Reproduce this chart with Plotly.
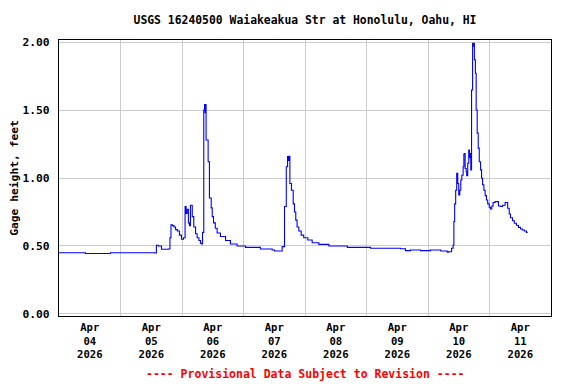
import pandas as pd
import plotly.graph_objects as go

# hours since 2026-04-04 00:00 and gage height (feet)
hours = [0.0, 4.5, 10.3, 16.2, 20.1, 37.3, 38.0, 38.8, 40.0, 42.7, 43.3, 43.7, 44.3, 44.9, 45.5,
         46.2, 47.0, 47.8, 48.6, 49.2, 49.6, 50.0, 50.5, 50.9, 51.3, 51.6, 52.0, 52.6, 53.3,
         53.9, 54.6, 55.2, 55.6, 56.0, 56.5, 56.8, 57.0, 57.3, 57.4, 58.2, 58.7, 59.4, 59.8,
         60.3, 61.0, 61.7, 63.0, 65.0, 66.9, 69.5, 72.8, 78.6, 83.2, 84.1, 85.8, 87.1, 88.0,
         88.7, 89.2, 89.5, 89.7, 90.1, 90.7, 91.4, 91.9, 92.4, 92.9, 93.6, 94.5, 95.5, 97.1,
         98.8, 101.4, 105.3, 112.5, 121.6, 125.5, 133.3, 135.2, 137.2, 141.1, 145.0, 149.0,
         151.5, 152.0, 153.2, 153.8, 154.1, 154.4, 154.8, 155.2, 155.6, 156.0, 156.4, 156.8,
         157.2, 157.7, 158.0, 158.2, 158.5, 158.9, 159.1, 159.5, 159.9, 160.2, 160.5, 160.7,
         161.0, 161.4, 161.6, 161.9, 162.1, 162.5, 162.8, 163.2, 163.6, 164.0, 164.5, 164.9,
         165.3, 165.8, 166.3, 166.8, 167.3, 167.9, 168.4, 168.9, 169.4, 170.2, 171.0, 171.5,
         172.3, 173.1, 174.1, 174.7, 175.1, 175.7, 176.2, 177.0, 177.7, 178.5, 179.3, 180.1,
         180.8, 181.6, 182.4, 182.9]
gage = [0.45, 0.45, 0.445, 0.445, 0.45, 0.448, 0.505, 0.50, 0.476, 0.478, 0.56, 0.655, 0.65,
        0.64, 0.62, 0.61, 0.58, 0.55, 0.56, 0.79, 0.74, 0.77, 0.67, 0.65, 0.80, 0.80, 0.716,
        0.64, 0.59, 0.56, 0.54, 0.52, 0.515, 0.60, 1.50, 1.54, 1.48, 1.54, 1.28, 1.12, 0.853,
        0.78, 0.716, 0.67, 0.63, 0.595, 0.57, 0.54, 0.515, 0.50, 0.49, 0.478, 0.47, 0.463,
        0.463, 0.495, 0.79, 1.083, 1.157, 1.13, 1.16, 0.96, 0.91, 0.81, 0.75, 0.69, 0.64,
        0.61, 0.58, 0.56, 0.544, 0.524, 0.512, 0.50, 0.49, 0.483, 0.483, 0.48, 0.466, 0.47,
        0.466, 0.47, 0.463, 0.455, 0.458, 0.483, 0.507, 0.68, 0.81, 0.91, 1.035, 0.96, 0.875,
        0.91, 0.985, 1.02, 1.083, 1.176, 1.18, 1.07, 1.046, 1.017, 1.108, 1.206, 1.15, 1.18,
        1.06, 1.647, 1.99, 1.97, 1.99, 1.87, 1.77, 1.50, 1.33, 1.22, 1.12, 1.06, 0.998, 0.95,
        0.91, 0.87, 0.838, 0.81, 0.785, 0.772, 0.794, 0.82, 0.826, 0.826, 0.794, 0.79, 0.80,
        0.82, 0.82, 0.777, 0.735, 0.708, 0.686, 0.667, 0.652, 0.637, 0.625, 0.618, 0.61,
        0.60, 0.60]

tick_days = ["2026-04-04", "2026-04-05", "2026-04-06", "2026-04-07",
             "2026-04-08", "2026-04-09", "2026-04-10", "2026-04-11"]
tick_text = ["Apr<br>04<br>2026", "Apr<br>05<br>2026", "Apr<br>06<br>2026", "Apr<br>07<br>2026",
             "Apr<br>08<br>2026", "Apr<br>09<br>2026", "Apr<br>10<br>2026", "Apr<br>11<br>2026"]
y_ticks = [0.0, 0.5, 1.0, 1.5, 2.0]

start = pd.Timestamp("2026-04-04 00:00")
times = [start + pd.Timedelta(hours=h) for h in hours]
tick_vals = [pd.Timestamp(d) + pd.Timedelta(hours=12) for d in tick_days]

FONT = "DejaVu Sans Mono"

fig = go.Figure()
fig.add_trace(go.Scatter(x=times, y=gage, mode="lines", line=dict(color="#0000ff", width=1.1, shape="hv"),
                         showlegend=False, hoverinfo="x+y"))

# the page body adds an 8px offset, so the figure is sized 568x376
fig.update_layout(
    width=568, height=376,
    margin=dict(l=50.5, r=25, t=32, b=68, autoexpand=False),
    paper_bgcolor="white", plot_bgcolor="white",
    font=dict(family=FONT, size=11, color="black", weight="bold"),
    title=dict(text="USGS 16240500 Waiakeakua Str at Honolulu, Oahu, HI", xref="paper", x=0.5,
               xanchor="center", y=1 - 12 / 376, yanchor="middle",
               font=dict(family=FONT, size=11.4, weight="bold")),
    xaxis=dict(range=[start, start + pd.Timedelta(days=8)], tickmode="array", tickvals=tick_vals,
               ticktext=tick_text, showgrid=False, ticks="", showline=True, linecolor="black",
               linewidth=1.2, mirror=True, zeroline=False, ticklabelstandoff=1, automargin=False,
               tickfont=dict(family=FONT, size=10.6, weight="bold"),
               minor=dict(tickmode="array", tickvals=[pd.Timestamp(d) for d in tick_days[1:]],
                          showgrid=True, gridcolor="#cccccc", gridwidth=1, ticks="")),
    yaxis=dict(range=[-0.015, 2.015], tickmode="array", tickvals=y_ticks,
               ticktext=[f"{v:.2f}" for v in y_ticks], showgrid=True, gridcolor="#cccccc", gridwidth=1,
               showline=True, linecolor="black", linewidth=1.2, mirror=True, zeroline=False, ticks="",
               ticklabelstandoff=6, automargin=False, tickfont=dict(family=FONT, size=11.3, weight="bold"),
               title=dict(text="Gage height, feet", standoff=1, font=dict(family=FONT, size=11.3, weight="bold"))),
    annotations=[dict(text="---- Provisional Data Subject to Revision ----", xref="paper", yref="paper",
                      x=0.5, y=-(374 - 316) / 276, xanchor="center", yanchor="middle", showarrow=False,
                      font=dict(family=FONT, size=11.5, color="#ff0000", weight="bold"))],
)

fig.write_html("out.html")
